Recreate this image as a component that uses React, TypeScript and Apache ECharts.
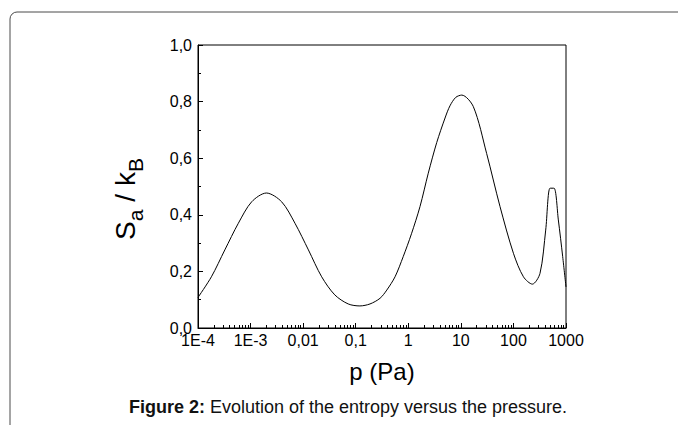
import React, { useEffect, useRef } from "react";
import * as echarts from "echarts";

// Pressure p (Pa) and entropy S_a / k_B
const pressure = [
  1e-4, 1.8e-4, 3.24e-4, 5.85e-4, 1.05e-3, 2.0e-3, 3.9e-3, 7.0e-3, 0.0126, 0.0225,
  0.04, 0.072, 0.12, 0.187, 0.29, 0.39, 0.56, 0.8, 1.15, 1.67,
  2.4, 3.47, 5.0, 6.2, 8.0, 10.4, 17.3, 30.9, 55.6, 100,
  155, 229, 320, 411, 497, 592, 715, 865, 1000,
];
const entropy = [
  0.108, 0.181, 0.276, 0.37, 0.446, 0.477, 0.446, 0.37, 0.276, 0.181,
  0.117, 0.085, 0.078, 0.085, 0.105, 0.134, 0.181, 0.252, 0.333, 0.429,
  0.547, 0.655, 0.742, 0.785, 0.815, 0.823, 0.782, 0.617, 0.429, 0.264,
  0.181, 0.155, 0.193, 0.346, 0.494, 0.494, 0.382, 0.252, 0.145,
];

const xTickValues = [1e-4, 1e-3, 0.01, 0.1, 1, 10, 100, 1000];
const xTickLabels = ["1E-4", "1E-3", "0,01", "0,1", "1", "10", "100", "1000"];
const minorMultipliers = [2, 3, 4, 5, 6, 7, 8, 9];
const yTickValues = [0, 0.2, 0.4, 0.6, 0.8, 1.0];
const yTickLabels = ["0,0", "0,2", "0,4", "0,6", "0,8", "1,0"];

const xTitle = "p (Pa)";
const captionBold = "Figure 2:";
const captionText = " Evolution of the entropy versus the pressure.";

const FONT = '"Liberation Sans", Arial, sans-serif';

function xLabel(v: number): string {
  const lv = Math.log10(v);
  let best = 0;
  let bd = Infinity;
  xTickValues.forEach((t, i) => {
    const d = Math.abs(Math.log10(t) - lv);
    if (d < bd) {
      bd = d;
      best = i;
    }
  });
  return xTickLabels[best];
}

function yLabel(v: number): string {
  let best = 0;
  let bd = Infinity;
  yTickValues.forEach((t, i) => {
    const d = Math.abs(t - v);
    if (d < bd) {
      bd = d;
      best = i;
    }
  });
  return yTickLabels[best];
}

export default function App() {
  const ref = useRef<HTMLDivElement>(null);

  useEffect(() => {
    if (!ref.current) return;
    const chart = echarts.init(ref.current, null, { renderer: "svg" });

    const minorTicks: number[] = [];
    for (let i = 0; i < xTickValues.length - 1; i++) {
      minorMultipliers.forEach((m) => minorTicks.push(xTickValues[i] * m));
    }

    const mainSize = 28;
    const subSize = 21;
    const subDrop = 8;
    const mid = 0.3465;

    const option: any = {
      animation: false,
      backgroundColor: "#fff",
      grid: {
        left: 198,
        top: 45,
        width: 368,
        height: 283,
        show: true,
        borderColor: "#000",
        borderWidth: 1,
        backgroundColor: "transparent",
      },
      xAxis: [
        {
          type: "log",
          logBase: 10,
          min: 1e-4,
          max: 1000,
          position: "bottom",
          axisLine: { show: true, onZero: false, lineStyle: { color: "#000", width: 1 } },
          axisTick: {
            show: true,
            inside: true,
            length: 5,
            customValues: xTickValues,
            lineStyle: { color: "#000", width: 1 },
          },
          axisLabel: {
            show: true,
            customValues: xTickValues,
            formatter: (v: number) => xLabel(v),
            color: "#000",
            fontSize: 16,
            fontFamily: FONT,
            margin: 4,
          },
          splitLine: { show: false },
          minorTick: { show: false },
          minorSplitLine: { show: false },
        },
        {
          type: "log",
          logBase: 10,
          min: 1e-4,
          max: 1000,
          position: "bottom",
          axisLine: { show: false, onZero: false },
          axisTick: {
            show: true,
            inside: true,
            length: 3,
            customValues: minorTicks,
            lineStyle: { color: "#000", width: 1 },
          },
          axisLabel: { show: false },
          splitLine: { show: false },
        },
      ],
      yAxis: {
        type: "value",
        min: 0,
        max: 1,
        interval: 0.2,
        axisLine: { show: true, onZero: false, lineStyle: { color: "#000", width: 1 } },
        axisTick: { show: true, inside: true, length: 5, lineStyle: { color: "#000", width: 1 } },
        minorTick: { show: true, splitNumber: 2, length: 3, lineStyle: { color: "#000", width: 1 } },
        axisLabel: {
          formatter: (v: number) => yLabel(v),
          color: "#000",
          fontSize: 16,
          fontFamily: FONT,
          margin: 6,
        },
        splitLine: { show: false },
      },
      series: [
        {
          type: "line",
          xAxisIndex: 0,
          yAxisIndex: 0,
          data: pressure.map((p, i) => [p, entropy[i]]),
          symbol: "none",
          showSymbol: false,
          smooth: 0.3,
          lineStyle: { color: "#000", width: 1 },
          clip: true,
        },
      ],
      graphic: [
        {
          type: "rect",
          silent: true,
          z: -10,
          shape: { x: 10, y: 12, width: 720, height: 500, r: 7 },
          style: { fill: "none", stroke: "#4a4a4a", lineWidth: 1 },
        },
        {
          type: "group",
          x: 135,
          y: 199,
          rotation: Math.PI / 2,
          children: [
            {
              type: "text",
              x: -40.9,
              y: -mid * mainSize,
              style: { text: "S", fontSize: mainSize, fontFamily: FONT, fill: "#000", align: "left", verticalAlign: "middle" },
            },
            {
              type: "text",
              x: -22.2,
              y: subDrop - mid * subSize,
              style: { text: "a", fontSize: subSize, fontFamily: FONT, fill: "#000", align: "left", verticalAlign: "middle" },
            },
            {
              type: "text",
              x: -2.7,
              y: -mid * mainSize,
              style: { text: "/", fontSize: mainSize, fontFamily: FONT, fill: "#000", align: "left", verticalAlign: "middle" },
            },
            {
              type: "text",
              x: 12.9,
              y: -mid * mainSize,
              style: { text: "k", fontSize: mainSize, fontFamily: FONT, fill: "#000", align: "left", verticalAlign: "middle" },
            },
            {
              type: "text",
              x: 26.9,
              y: subDrop - mid * subSize,
              style: { text: "B", fontSize: subSize, fontFamily: FONT, fill: "#000", align: "left", verticalAlign: "middle" },
            },
          ],
        },
        {
          type: "text",
          x: 382,
          y: 371.5,
          style: { text: xTitle, fontSize: 24, fontFamily: FONT, fill: "#000", align: "center", verticalAlign: "middle" },
        },
        {
          type: "text",
          x: 348,
          y: 407,
          style: {
            text: "{b|" + captionBold + "}" + captionText,
            fontSize: 18,
            fontFamily: FONT,
            fill: "#111",
            align: "center",
            verticalAlign: "middle",
            rich: {
              b: { fontSize: 18, fontFamily: FONT, fontWeight: "bold", fill: "#111" },
            },
          },
        },
      ],
    };

    chart.setOption(option);
    return () => chart.dispose();
  }, []);

  return (
    <div
      ref={ref}
      style={{ position: "fixed", left: 0, top: 0, width: 678, height: 425, background: "#fff" }}
    />
  );
}
